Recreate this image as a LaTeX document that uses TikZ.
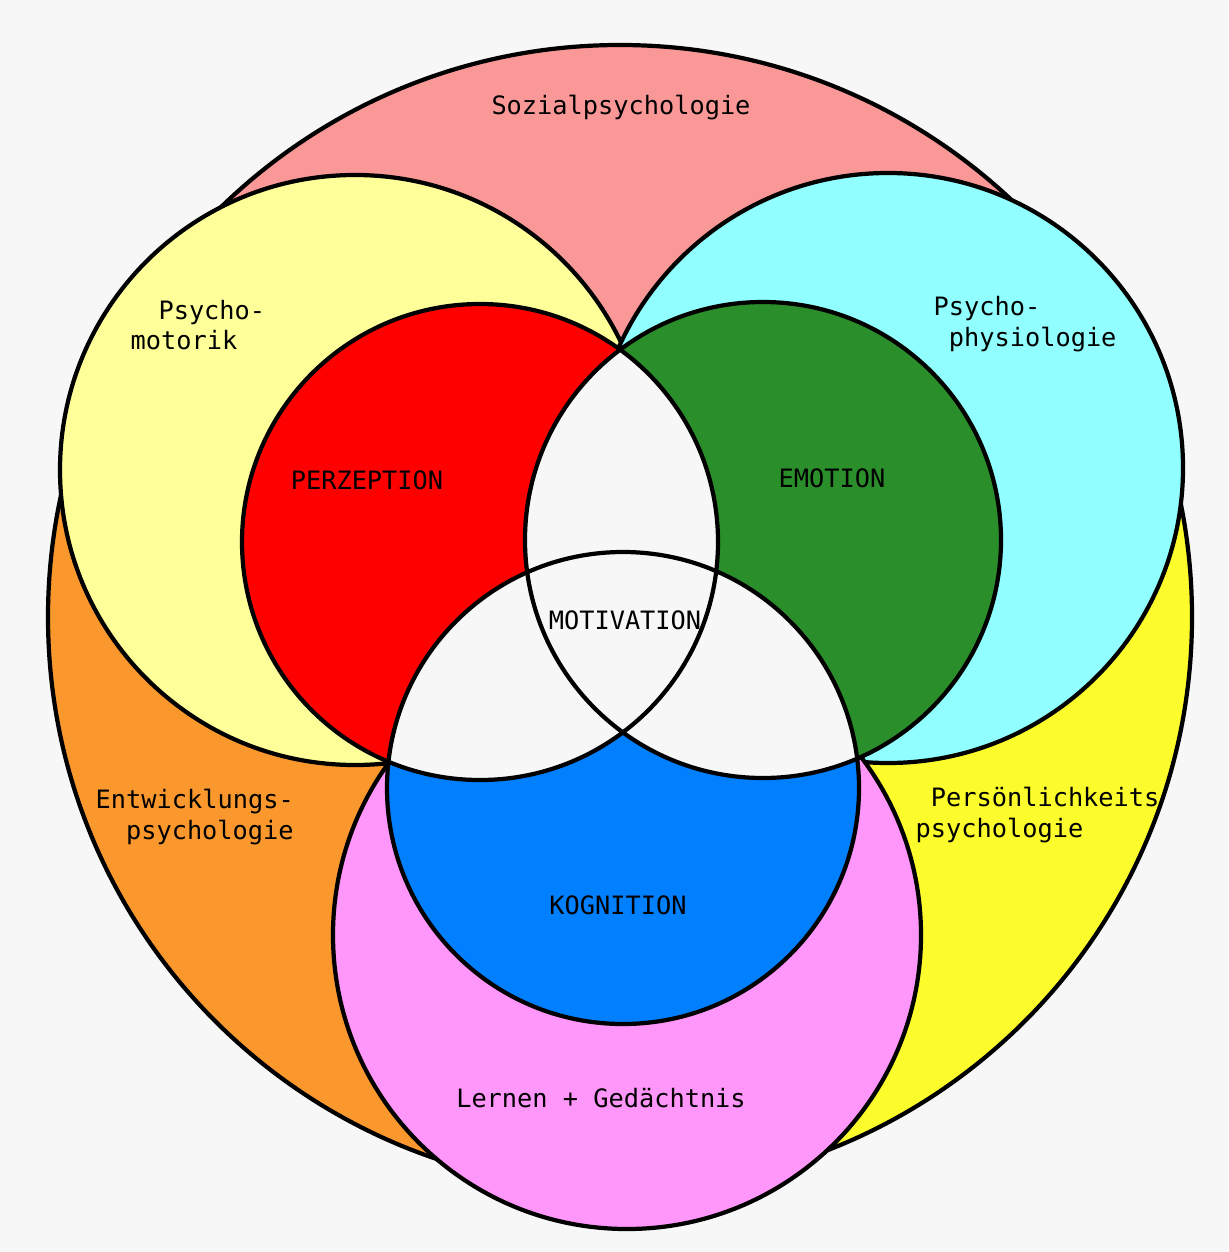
\documentclass[tikz,border=0pt]{standalone}
\usepackage{fontspec}
\setmonofont{DejaVu Sans Mono}

\definecolor{bgGray}{RGB}{247,247,247}
\definecolor{pinkTop}{RGB}{250,152,152}
\definecolor{orangeL}{RGB}{250,152,45}
\definecolor{yellowR}{RGB}{252,252,45}
\definecolor{lightYel}{RGB}{255,255,153}
\definecolor{lightCyan}{RGB}{145,255,255}
\definecolor{pinkLG}{RGB}{255,150,250}
\definecolor{redPZ}{RGB}{255,0,0}
\definecolor{greenEM}{RGB}{42,142,42}
\definecolor{blueKG}{RGB}{0,128,255}

\begin{document}
\begin{tikzpicture}[x=0.1mm,y=-0.1mm,
  ring/.style={draw=black,line width=1.2pt},
  lbl/.style={inner sep=0pt,font=\ttfamily\fontsize{7.2}{8.6}\selectfont}]

\fill[bgGray] (0,0) rectangle (1228,1252);
\useasboundingbox (0,0) rectangle (1228,1252);

\coordinate (OC) at (620,617);
\coordinate (PM) at (355,470);
\coordinate (PP) at (888,468);
\coordinate (LG) at (627,935);
\coordinate (PZ) at (480,542);
\coordinate (EM) at (763,540);
\coordinate (KG) at (623,788);

% outer ring in three parts
\fill[pinkTop] (OC) -- ++(210:572) arc[start angle=210,end angle=330,radius=572] -- cycle;
\fill[orangeL] (OC) -- ++(90:572) arc[start angle=90,end angle=210,radius=572] -- cycle;
\fill[yellowR] (OC) -- ++(-30:572) arc[start angle=-30,end angle=90,radius=572] -- cycle;
\draw[ring] (OC) circle[radius=572];

% middle circles
\draw[ring,fill=lightYel] (PM) circle[radius=295];
\draw[ring,fill=lightCyan] (PP) circle[radius=295];
\draw[ring,fill=pinkLG] (LG) circle[radius=294];

% inner circles
\fill[redPZ] (PZ) circle[radius=238];
\fill[greenEM] (EM) circle[radius=238];
\fill[blueKG] (KG) circle[radius=236];
\begin{scope}
  \clip (PZ) circle[radius=238];
  \fill[bgGray] (EM) circle[radius=238];
  \fill[bgGray] (KG) circle[radius=236];
\end{scope}
\begin{scope}
  \clip (EM) circle[radius=238];
  \fill[bgGray] (KG) circle[radius=236];
\end{scope}
\foreach \c/\r in {PZ/238,EM/238,KG/236}
  \draw[ring] (\c) circle[radius=\r];

% labels
\node[lbl] (LSZ) at (621,108) {Sozialpsychologie};
\node[lbl,anchor=west,align=left] (LPM) at (130,325) {\hspace*{1.1em}Psycho-\\motorik};
\node[lbl,anchor=west,align=left] (LPP) at (933,324) {Psycho-\\\hspace*{0.6em}physiologie};
\node[lbl] (LPZ) at (367,480) {PERZEPTION};
\node[lbl] (LEM) at (832,478) {EMOTION};
\node[lbl] (LMO) at (625,620) {MOTIVATION};
\node[lbl] (LKG) at (618,905) {KOGNITION};
\node[lbl,anchor=west,align=left] (LEW) at (95,817) {Entwicklungs-\\\hspace*{1.2em}psychologie};
\node[lbl,anchor=west,align=left] (LPS) at (915,815) {\hspace*{0.6em}Persönlichkeits\\psychologie};
\node[lbl] (LLG) at (601,1098) {Lernen + Gedächtnis};

\end{tikzpicture}
\end{document}
